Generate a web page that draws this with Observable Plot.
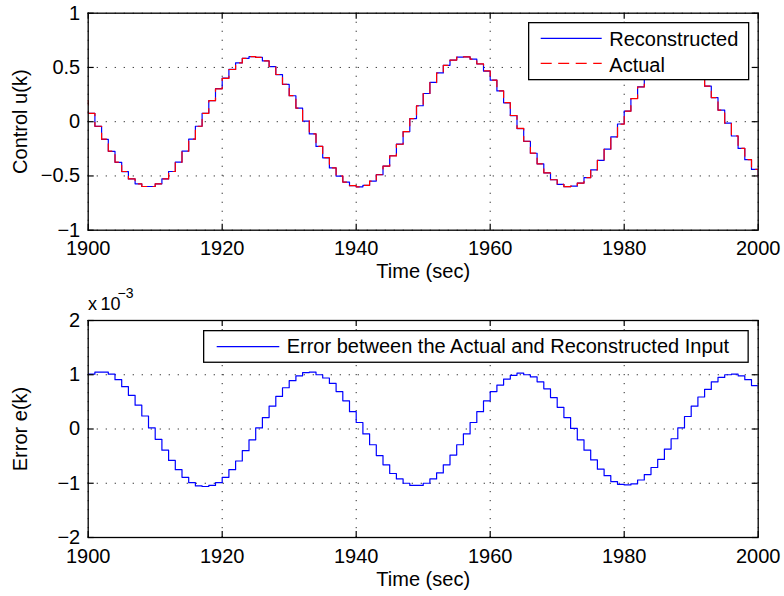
<!DOCTYPE html>
<html>
<head>
<meta charset="utf-8">
<script src="https://cdn.jsdelivr.net/npm/d3@7"></script>
<script src="https://cdn.jsdelivr.net/npm/@observablehq/plot@0.6"></script>
<style>
  html, body { margin: 0; padding: 0; background: #fff; }
  #wrap { position: relative; width: 784px; height: 596px; overflow: hidden; font-family: "Liberation Sans", Arial, sans-serif; }
  #wrap svg { display: block; }
  .overlay { position: absolute; pointer-events: none; overflow: visible; }
</style>
</head>
<body>
<div id="wrap">
  <div id="top"></div>
  <div id="bottom"></div>
</div>
<script>
// ---------- data ----------
const xTicks = [1900, 1920, 1940, 1960, 1980, 2000];
const yTicksTop = [-1, -0.5, 0, 0.5, 1];
const yTicksBottom = [-2, -1, 0, 1, 2];

// Actual control u(k), k = 1899 ... 2000 (one sample before the visible window)
const actualStart = 1899;
const actualU = [
  0.194, 0.077, -0.042, -0.161, -0.272, -0.373, -0.459, -0.527, -0.573, -0.597,
  -0.597, -0.573, -0.527, -0.459, -0.373, -0.272, -0.161, -0.042, 0.077, 0.194,
  0.303, 0.400, 0.481, 0.542, 0.583, 0.599, 0.592, 0.561, 0.509, 0.435,
  0.345, 0.240, 0.126, 0.007, -0.112, -0.227, -0.332, -0.425, -0.500, -0.556,
  -0.590, -0.600, -0.586, -0.548, -0.489, -0.410, -0.315, -0.208, -0.092, 0.028,
  0.146, 0.259, 0.361, 0.449, 0.519, 0.568, 0.595, 0.598, 0.577, 0.533,
  0.468, 0.384, 0.285, 0.175, 0.057, -0.062, -0.180, -0.290, -0.388, -0.471,
  -0.535, -0.578, -0.599, -0.594, -0.566, -0.516, -0.445, -0.357, -0.254, -0.141,
  -0.022, 0.097, 0.213, 0.320, 0.414, 0.492, 0.550, 0.586, 0.600, 0.588,
  0.554, 0.497, 0.421, 0.328, 0.222, 0.107, -0.013, -0.131, -0.245, -0.349,
  -0.439, -0.511
];

// Reconstructed control u(k), k = 1900 ... 2000
const reconStart = 1900;
const reconU = [
  0.076, -0.043, -0.162, -0.273, -0.374, -0.460, -0.527, -0.573, -0.597,
  -0.597, -0.573, -0.527, -0.459, -0.373, -0.272, -0.161, -0.042, 0.078, 0.195,
  0.304, 0.401, 0.482, 0.543, 0.583, 0.599, 0.592, 0.560, 0.508, 0.434,
  0.344, 0.239, 0.125, 0.006, -0.113, -0.228, -0.333, -0.426, -0.501, -0.556,
  -0.590, -0.600, -0.586, -0.547, -0.488, -0.409, -0.314, -0.207, -0.091, 0.029,
  0.147, 0.260, 0.362, 0.450, 0.520, 0.568, 0.595, 0.598, 0.576, 0.532,
  0.467, 0.383, 0.284, 0.174, 0.056, -0.063, -0.181, -0.291, -0.389, -0.472,
  -0.535, -0.578, -0.599, -0.594, -0.566, -0.515, -0.444, -0.356, -0.253, -0.140,
  -0.021, 0.098, 0.214, 0.321, 0.415, 0.493, 0.551, 0.587, 0.601, 0.589,
  0.554, 0.496, 0.420, 0.327, 0.221, 0.106, -0.014, -0.132, -0.246, -0.350,
  -0.440, -0.512
];

// Error e(k) in units of 1e-3, k = 1900 ... 2000
const errorStart = 1900;
const errorE = [
  1.01, 1.05, 1.05, 1.01, 0.91, 0.78, 0.62, 0.44, 0.24, 0.02,
  -0.19, -0.39, -0.58, -0.75, -0.89, -0.99, -1.05, -1.06, -1.04, -0.99,
  -0.89, -0.75, -0.59, -0.40, -0.20, 0.02, 0.21, 0.42, 0.60, 0.76,
  0.89, 0.98, 1.04, 1.05, 1.00, 0.94, 0.84, 0.69, 0.52, 0.32,
  0.12, -0.09, -0.29, -0.49, -0.66, -0.82, -0.92, -1.00, -1.04, -1.04,
  -1.00, -0.92, -0.81, -0.66, -0.48, -0.29, -0.09, 0.12, 0.32, 0.52,
  0.69, 0.81, 0.92, 0.99, 1.03, 1.00, 0.96, 0.87, 0.74, 0.58,
  0.40, 0.21, 0.01, -0.20, -0.39, -0.57, -0.74, -0.86, -0.97, -1.02,
  -1.03, -1.01, -0.94, -0.84, -0.71, -0.56, -0.37, -0.18, 0.02, 0.23,
  0.42, 0.59, 0.73, 0.87, 0.95, 1.00, 1.01, 0.98, 0.91, 0.80,
  0.75
];

// ---------- build tables ----------
const toRows = (start, arr) => arr.map((v, i) => ({t: start + i, v}));
const actualRows = toRows(actualStart, actualU);
const reconRows = toRows(reconStart, reconU);
const errorRows = toRows(errorStart, errorE);

// ---------- layout ----------
const W = 784, H = 298;
const mL = 87.7, mR = 26.3;
const frameW = W - mL - mR;
const frameH = 217;
const tick = 6;
const font = '"Liberation Sans", Arial, sans-serif';
const fmtNum = d => String(d).replace("-", "\u2212");
const gridStyle = {stroke: "#000", strokeOpacity: 0.85, strokeWidth: 1, strokeDasharray: "1.2,7.8"};

function inwardTicks(yTicks) {
  return [
    Plot.ruleX(xTicks, {stroke: "#000", strokeWidth: 1.2, insetTop: frameH - tick}),
    Plot.ruleX(xTicks, {stroke: "#000", strokeWidth: 1.2, insetBottom: frameH - tick}),
    Plot.ruleY(yTicks, {stroke: "#000", strokeWidth: 1.2, insetLeft: frameW - tick}),
    Plot.ruleY(yTicks, {stroke: "#000", strokeWidth: 1.2, insetRight: frameW - tick})
  ];
}

function makePlot({marginTop, yDomain, yTicks, yLabel, lines}) {
  const marginBottom = H - marginTop - frameH;
  return Plot.plot({
    width: W, height: H,
    marginLeft: mL, marginRight: mR, marginTop, marginBottom,
    style: {fontFamily: font, fontSize: "20px", color: "#000", background: "#fff", overflow: "visible"},
    x: {domain: [1900, 2000]},
    y: {domain: yDomain},
    marks: [
      Plot.gridX(xTicks, gridStyle),
      Plot.gridY(yTicks, gridStyle),
      ...lines,
      ...inwardTicks(yTicks),
      Plot.axisX(xTicks, {tickSize: 0, tickPadding: 11, tickFormat: d => String(d),
        label: "Time (sec)", labelAnchor: "center", labelOffset: 48, labelArrow: "none", fill: "#000"}),
      Plot.axisY(yTicks, {tickSize: 0, tickPadding: 8, tickFormat: fmtNum,
        label: yLabel, labelAnchor: "center", labelOffset: 75, labelArrow: "none", fill: "#000"}),
      Plot.frame({stroke: "#000", strokeWidth: 1.3})
    ]
  });
}

const topPlot = makePlot({
  marginTop: 12.7,
  yDomain: [-1, 1],
  yTicks: yTicksTop,
  yLabel: "Control u(k)",
  lines: [
    Plot.line(reconRows, {x: "t", y: "v", curve: "step-after", stroke: "#0000ff", strokeWidth: 1.2, clip: true}),
    Plot.line(actualRows, {x: "t", y: "v", curve: "step-after", stroke: "#ff0000", strokeWidth: 1.2, strokeDasharray: "11,6.5", clip: true})
  ]
});
document.getElementById("top").appendChild(topPlot);

const bottomPlot = makePlot({
  marginTop: 22,
  yDomain: [-2, 2],
  yTicks: yTicksBottom,
  yLabel: "Error e(k)",
  lines: [
    Plot.line(errorRows, {x: "t", y: "v", curve: "step-after", stroke: "#0000ff", strokeWidth: 1.2, clip: true})
  ]
});
document.getElementById("bottom").appendChild(bottomPlot);

// ---------- legends & exponent label (real text) ----------
const NS = "http://www.w3.org/2000/svg";
function overlay(left, top, w, h, inner) {
  const s = document.createElementNS(NS, "svg");
  s.setAttribute("class", "overlay");
  s.setAttribute("width", w); s.setAttribute("height", h);
  s.style.left = left + "px"; s.style.top = top + "px";
  s.setAttribute("font-family", font);
  s.innerHTML = inner;
  document.getElementById("wrap").appendChild(s);
}
overlay(528, 22, 222, 60,
  `<rect x="0.65" y="0.65" width="220" height="57" fill="#fff" stroke="#000" stroke-width="1.3"/>
   <line x1="12.7" x2="73.7" y1="16.3" y2="16.3" stroke="#0000ff" stroke-width="1.2"/>
   <line x1="12.7" x2="73.7" y1="41.3" y2="41.3" stroke="#ff0000" stroke-width="1.2" stroke-dasharray="11,6.5"/>
   <text x="81.3" y="24" font-size="20" fill="#000">Reconstructed</text>
   <text x="81.3" y="49.7" font-size="20" fill="#000">Actual</text>`);
overlay(203, 330, 547, 34,
  `<rect x="0.65" y="0.65" width="544.5" height="31.6" fill="#fff" stroke="#000" stroke-width="1.3"/>
   <line x1="13.7" x2="76.3" y1="16.7" y2="16.7" stroke="#0000ff" stroke-width="1.2"/>
   <text x="83.7" y="23.3" font-size="20" fill="#000">Error between the Actual and Reconstructed Input</text>`);
overlay(86, 284, 70, 32,
  `<text y="26" font-size="18" fill="#000"><tspan x="2">x</tspan><tspan x="14.5">10</tspan></text>
   <text x="31.5" y="14" font-size="14" fill="#000">\u22123</text>`);
</script>
</body>
</html>
